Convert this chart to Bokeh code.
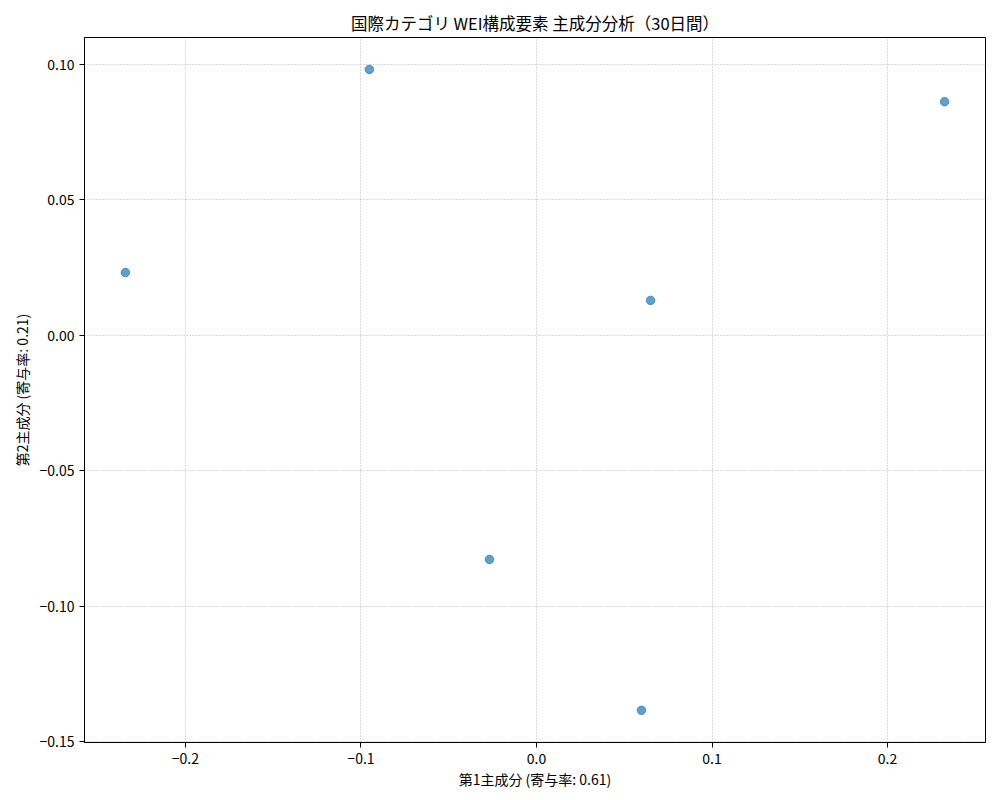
from bokeh.plotting import figure
from bokeh.models import FixedTicker, Range1d
from bokeh.embed import file_html
from bokeh.resources import INLINE

pc1 = [-0.2342, -0.0952, 0.2325, 0.0650, -0.0268, 0.0598]
pc2 = [0.0232, 0.0982, 0.0863, 0.0129, -0.0828, -0.1385]

x_ticks = [-0.2, -0.1, 0.0, 0.1, 0.2]
x_tick_labels = ["\u22120.2", "\u22120.1", "0.0", "0.1", "0.2"]
y_ticks = [-0.15, -0.10, -0.05, 0.0, 0.05, 0.10]
y_tick_labels = ["\u22120.15", "\u22120.10", "\u22120.05", "0.00", "0.05", "0.10"]

title = "国際カテゴリ WEI構成要素 主成分分析（30日間）"
x_label = "第1主成分 (寄与率: 0.61)"
y_label = "第2主成分 (寄与率: 0.21)"

FONT = "Noto Sans CJK JP"

p = figure(width=992, height=792, output_backend="svg", toolbar_location=None,
           x_range=Range1d(-0.2575, 0.2558), y_range=Range1d(-0.1504, 0.110),
           min_border_left=84, min_border_right=7, min_border_top=37, min_border_bottom=50)

p.title.text = title
p.title.align = "center"
p.title.text_font = FONT
p.title.text_font_size = "16.5px"
p.title.text_font_style = "normal"
p.title.text_color = "black"
p.title.standoff = 6

p.scatter(pc1, pc2, size=8.5, fill_color="#1f77b4", line_color="#1f77b4",
          fill_alpha=0.7, line_alpha=0.7)

p.xaxis.ticker = FixedTicker(ticks=x_ticks)
p.yaxis.ticker = FixedTicker(ticks=y_ticks)
p.xaxis.major_label_overrides = {t: l for t, l in zip(x_ticks, x_tick_labels)}
p.yaxis.major_label_overrides = {t: l for t, l in zip(y_ticks, y_tick_labels)}

for ax in (p.xaxis, p.yaxis):
    ax.major_label_text_font = FONT
    ax.major_label_text_font_size = "14px"
    ax.major_label_text_color = "black"
    ax.axis_label_text_font = FONT
    ax.axis_label_text_font_size = "14px"
    ax.axis_label_text_font_style = "normal"
    ax.axis_label_text_color = "black"
    ax.minor_tick_line_color = None
    ax.major_tick_out = 5
    ax.major_tick_in = 0
    ax.major_tick_line_color = "black"
    ax.axis_line_color = "black"
    ax.major_label_standoff = 5

p.xaxis.axis_label_standoff = 2
p.yaxis.axis_label_standoff = 5

p.xaxis.axis_label = x_label
p.yaxis.axis_label = y_label

p.outline_line_color = "black"
p.outline_line_width = 1
p.outline_line_alpha = 1

p.grid.grid_line_color = "#b0b0b0"
p.grid.grid_line_dash = "1 2"
p.grid.grid_line_width = 1
p.grid.grid_line_alpha = 0.9

p.background_fill_color = "white"
p.border_fill_color = "white"

open("out.html", "w").write(file_html(p, INLINE))
